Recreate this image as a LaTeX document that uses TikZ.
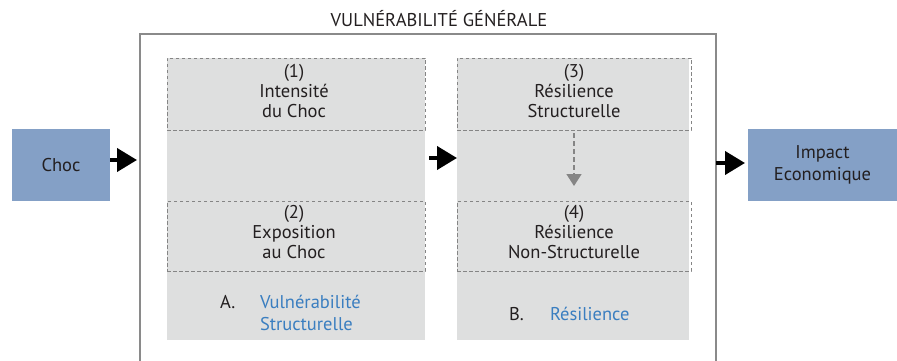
\documentclass[tikz,border=0pt]{standalone}
\usepackage{fontspec}
\setmainfont{PT Sans}
\usetikzlibrary{arrows.meta}
\definecolor{chocblue}{HTML}{84A0C6}
\definecolor{panelgray}{HTML}{DEDFDF}
\definecolor{framegray}{HTML}{8A8A8A}
\definecolor{dashgray}{HTML}{858585}
\definecolor{txt}{HTML}{231F20}
\definecolor{linkblue}{HTML}{3A7EC0}
\tikzset{
  every node/.style={text=txt, font=\fontsize{18.5}{20}\selectfont, inner sep=0pt, outer sep=0pt},
  bluebox/.style={rectangle, fill=chocblue},
  panel/.style={rectangle, fill=panelgray},
  dashbox/.style={rectangle, draw=dashgray, line width=0.9pt, dash pattern=on 3.5pt off 2.5pt},
  bigarrow/.style={draw=black, line width=4pt, -{Triangle[length=20pt,width=23pt]}},
  smallarrow/.style={draw=dashgray, line width=1.5pt, dash pattern=on 5pt off 3pt, -{Triangle[length=12pt,width=15pt]}},
  lbl/.style={align=center},
}
\begin{document}
\begin{tikzpicture}[x=1pt,y=-1pt]
\useasboundingbox (0,0) rectangle (897,361);
% outer frame (open at the bottom)
\node[rectangle, minimum width=576pt, minimum height=340pt] (outer) at (428,204) {};
\draw[framegray, line width=1.3pt] (outer.south west) -- (outer.north west) -- (outer.north east) -- (outer.south east);
\node (title) at (439,19) {VULNÉRABILITÉ GÉNÉRALE};
% panels
\node[panel, minimum width=258pt, minimum height=282pt] (colA) at (296,199) {};
\node[panel, minimum width=232pt, minimum height=282pt] (colB) at (573,199) {};
% dashed boxes
\node[dashbox, minimum width=258pt, minimum height=72pt] (b1) at (296,94) {};
\node[dashbox, minimum width=258pt, minimum height=70pt] (b2) at (296,236) {};
\node[dashbox, minimum width=234pt, minimum height=72pt] (b3) at (574,94) {};
\node[dashbox, minimum width=234pt, minimum height=70pt] (b4) at (574,236) {};
% texts
\node[lbl] (t1) at (294,91) {(1)\\Intensité\\du Choc};
\node[lbl] (t2) at (294,232) {(2)\\Exposition\\au Choc};
\node[lbl] (t3) at (574,91) {(3)\\Résilience\\Structurelle};
\node[lbl] (t4) at (574,232) {(4)\\Résilience\\Non-Structurelle};
\node[anchor=west] (lA) at (220,302) {A.};
\node[anchor=west, align=left, text=linkblue, font=\fontsize{18.5}{22}\selectfont] (vA) at (260,313) {Vulnérabilité\\Structurelle};
\node[anchor=west] (lB) at (509,314) {B.};
\node[anchor=west, text=linkblue] (vB) at (550,314) {Résilience};
% outside boxes
\node[bluebox, minimum width=98pt, minimum height=72pt] (choc) at (61,165) {Choc};
\node[bluebox, minimum width=149pt, minimum height=72pt, align=center, font=\fontsize{18.5}{22}\selectfont] (impact) at (822.5,165) {Impact\\Economique};
% connectors
\draw[bigarrow, shorten >=3pt] (choc.east |- 0,160) -- (outer.west |- 0,160);
\draw[bigarrow, shorten <=4pt] (colA.east |- 0,158) -- (colB.west |- 0,158);
\draw[bigarrow, shorten >=3pt] (outer.east |- 0,163) -- (impact.west |- 0,163);
\draw[smallarrow, shorten <=3pt, shorten >=15pt] (b3.south) -- (b4.north);
\end{tikzpicture}
\end{document}
